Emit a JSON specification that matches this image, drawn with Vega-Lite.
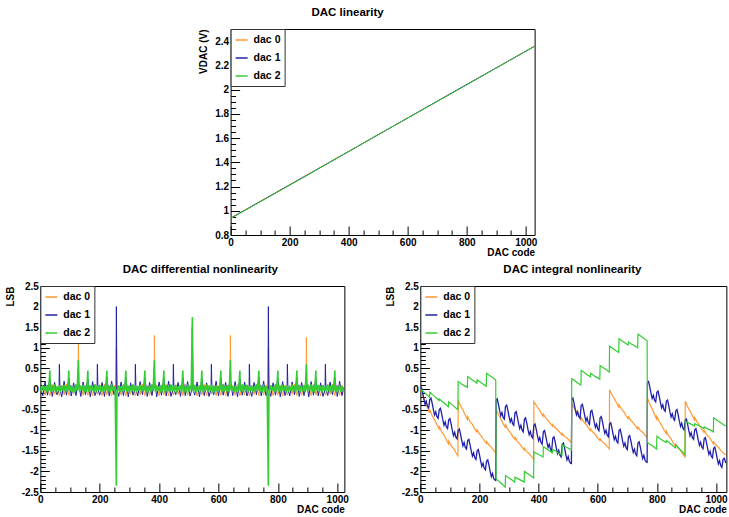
{
"$schema":"https://vega.github.io/schema/vega-lite/v6.json",
"background":"white",
"padding":{"left":4,"top":6,"right":0,"bottom":0},
"config":{
 "font":"Liberation Sans",
 "view":{"stroke":"#000000","strokeWidth":1},
 "axis":{"domain":false,"grid":false,"labelFont":"Liberation Sans","labelFontWeight":"bold","labelFontSize":10,"labelColor":"#000000","titleFont":"Liberation Sans","titleFontWeight":"bold","titleFontSize":10,"titleColor":"#000000","tickColor":"#000000","tickWidth":1},
 "title":{"font":"Liberation Sans","fontSize":11.5,"fontWeight":"bold","color":"#000000"}
},
"datasets":{
"lin0":[{"c":0,"v":0.94},{"c":256,"v":1.292},{"c":512,"v":1.645},{"c":768,"v":1.997},{"c":1029,"v":2.358}],
"lin1":[{"c":0,"v":0.938},{"c":256,"v":1.29},{"c":512,"v":1.644},{"c":768,"v":1.998},{"c":1029,"v":2.356}],
"lin2":[{"c":0,"v":0.936},{"c":256,"v":1.288},{"c":512,"v":1.645},{"c":768,"v":1.995},{"c":1029,"v":2.357}],
"dnl0":[{"c":0,"v":-0.05},{"c":8,"v":0.1},{"c":16,"v":-0.15},{"c":24,"v":0.08},{"c":32,"v":-0.16},{"c":40,"v":0.11},{"c":48,"v":-0.13},{"c":56,"v":0.07},{"c":64,"v":-0.17},{"c":72,"v":0.09},{"c":80,"v":-0.14},{"c":88,"v":0.12},{"c":96,"v":-0.16},{"c":104,"v":0.06},{"c":112,"v":-0.12},{"c":120,"v":0.1},{"c":127,"v":0.02},{"c":128,"v":1.3},{"c":129,"v":0.65},{"c":130,"v":0},{"c":136,"v":0.08},{"c":144,"v":-0.16},{"c":152,"v":0.1},{"c":160,"v":-0.15},{"c":168,"v":0.07},{"c":176,"v":-0.17},{"c":184,"v":0.11},{"c":192,"v":-0.13},{"c":200,"v":0.09},{"c":208,"v":-0.16},{"c":216,"v":0.12},{"c":224,"v":-0.14},{"c":232,"v":0.08},{"c":240,"v":-0.17},{"c":248,"v":0.1},{"c":255,"v":0.02},{"c":256,"v":1},{"c":257,"v":0.5},{"c":258,"v":0},{"c":264,"v":0.09},{"c":272,"v":-0.15},{"c":280,"v":0.11},{"c":288,"v":-0.16},{"c":296,"v":0.07},{"c":304,"v":-0.13},{"c":312,"v":0.1},{"c":320,"v":-0.17},{"c":328,"v":0.08},{"c":336,"v":-0.14},{"c":344,"v":0.12},{"c":352,"v":-0.16},{"c":360,"v":0.09},{"c":368,"v":-0.15},{"c":376,"v":0.06},{"c":383,"v":0.02},{"c":384,"v":1.3},{"c":385,"v":0.65},{"c":386,"v":0},{"c":392,"v":0.1},{"c":400,"v":-0.16},{"c":408,"v":0.08},{"c":416,"v":-0.14},{"c":424,"v":0.11},{"c":432,"v":-0.17},{"c":440,"v":0.07},{"c":448,"v":-0.15},{"c":456,"v":0.1},{"c":464,"v":-0.13},{"c":472,"v":0.09},{"c":480,"v":-0.16},{"c":488,"v":0.12},{"c":496,"v":-0.15},{"c":504,"v":0.08},{"c":511,"v":0.02},{"c":512,"v":1},{"c":513,"v":0.5},{"c":514,"v":0},{"c":520,"v":0.1},{"c":528,"v":-0.17},{"c":536,"v":0.07},{"c":544,"v":-0.14},{"c":552,"v":0.11},{"c":560,"v":-0.16},{"c":568,"v":0.09},{"c":576,"v":-0.13},{"c":584,"v":0.1},{"c":592,"v":-0.16},{"c":600,"v":0.08},{"c":608,"v":-0.15},{"c":616,"v":0.12},{"c":624,"v":-0.17},{"c":632,"v":0.07},{"c":639,"v":0.02},{"c":640,"v":1.3},{"c":641,"v":0.65},{"c":642,"v":0},{"c":648,"v":0.09},{"c":656,"v":-0.15},{"c":664,"v":0.11},{"c":672,"v":-0.16},{"c":680,"v":0.08},{"c":688,"v":-0.14},{"c":696,"v":0.1},{"c":704,"v":-0.17},{"c":712,"v":0.07},{"c":720,"v":-0.13},{"c":728,"v":0.12},{"c":736,"v":-0.16},{"c":744,"v":0.09},{"c":752,"v":-0.15},{"c":760,"v":0.1},{"c":767,"v":0.02},{"c":768,"v":1},{"c":769,"v":0.5},{"c":770,"v":0},{"c":776,"v":0.08},{"c":784,"v":-0.16},{"c":792,"v":0.11},{"c":800,"v":-0.14},{"c":808,"v":0.07},{"c":816,"v":-0.17},{"c":824,"v":0.1},{"c":832,"v":-0.15},{"c":840,"v":0.09},{"c":848,"v":-0.13},{"c":856,"v":0.12},{"c":864,"v":-0.16},{"c":872,"v":0.08},{"c":880,"v":-0.15},{"c":888,"v":0.1},{"c":895,"v":0.02},{"c":896,"v":1.25},{"c":897,"v":0.62},{"c":898,"v":0},{"c":904,"v":0.09},{"c":912,"v":-0.16},{"c":920,"v":0.11},{"c":928,"v":-0.14},{"c":936,"v":0.07},{"c":944,"v":-0.17},{"c":952,"v":0.1},{"c":960,"v":-0.15},{"c":968,"v":0.08},{"c":976,"v":-0.13},{"c":984,"v":0.12},{"c":992,"v":-0.16},{"c":1000,"v":0.09},{"c":1008,"v":-0.15},{"c":1016,"v":0.1},{"c":1023,"v":-0.05}],
"dnl1":[{"c":0,"v":0.05},{"c":8,"v":-0.17},{"c":16,"v":0.18},{"c":24,"v":-0.15},{"c":32,"v":0.26},{"c":40,"v":-0.18},{"c":48,"v":0.16},{"c":56,"v":-0.14},{"c":63,"v":0},{"c":64,"v":0.6},{"c":65,"v":0.3},{"c":66,"v":0},{"c":72,"v":-0.19},{"c":80,"v":0.19},{"c":88,"v":-0.15},{"c":96,"v":0.27},{"c":104,"v":-0.17},{"c":112,"v":0.15},{"c":120,"v":-0.16},{"c":128,"v":0.2},{"c":136,"v":-0.18},{"c":144,"v":0.17},{"c":152,"v":-0.14},{"c":160,"v":0.25},{"c":168,"v":-0.19},{"c":176,"v":0.18},{"c":184,"v":-0.16},{"c":191,"v":0},{"c":192,"v":0.6},{"c":193,"v":0.3},{"c":194,"v":0},{"c":200,"v":-0.15},{"c":208,"v":0.16},{"c":216,"v":-0.18},{"c":224,"v":0.28},{"c":232,"v":-0.17},{"c":240,"v":0.19},{"c":248,"v":-0.14},{"c":255,"v":0},{"c":256,"v":2},{"c":257,"v":1},{"c":258,"v":0},{"c":264,"v":-0.18},{"c":272,"v":0.17},{"c":280,"v":-0.16},{"c":288,"v":0.26},{"c":296,"v":-0.19},{"c":304,"v":0.15},{"c":312,"v":-0.15},{"c":319,"v":0},{"c":320,"v":0.6},{"c":321,"v":0.3},{"c":322,"v":0},{"c":328,"v":-0.17},{"c":336,"v":0.18},{"c":344,"v":-0.14},{"c":352,"v":0.27},{"c":360,"v":-0.18},{"c":368,"v":0.16},{"c":376,"v":-0.16},{"c":384,"v":0.2},{"c":392,"v":-0.19},{"c":400,"v":0.17},{"c":408,"v":-0.15},{"c":416,"v":0.25},{"c":424,"v":-0.17},{"c":432,"v":0.19},{"c":440,"v":-0.18},{"c":447,"v":0},{"c":448,"v":0.6},{"c":449,"v":0.3},{"c":450,"v":0},{"c":456,"v":-0.14},{"c":464,"v":0.16},{"c":472,"v":-0.18},{"c":480,"v":0.28},{"c":488,"v":-0.16},{"c":496,"v":0.18},{"c":504,"v":-0.17},{"c":511,"v":0},{"c":512,"v":1.5},{"c":513,"v":0.75},{"c":514,"v":0},{"c":520,"v":-0.15},{"c":528,"v":0.17},{"c":536,"v":-0.19},{"c":544,"v":0.26},{"c":552,"v":-0.16},{"c":560,"v":0.15},{"c":568,"v":-0.18},{"c":575,"v":0},{"c":576,"v":0.6},{"c":577,"v":0.3},{"c":578,"v":0},{"c":584,"v":-0.14},{"c":592,"v":0.19},{"c":600,"v":-0.17},{"c":608,"v":0.27},{"c":616,"v":-0.15},{"c":624,"v":0.16},{"c":632,"v":-0.18},{"c":640,"v":0.2},{"c":648,"v":-0.16},{"c":656,"v":0.18},{"c":664,"v":-0.19},{"c":672,"v":0.25},{"c":680,"v":-0.15},{"c":688,"v":0.17},{"c":696,"v":-0.17},{"c":703,"v":0},{"c":704,"v":0.6},{"c":705,"v":0.3},{"c":706,"v":0},{"c":712,"v":-0.18},{"c":720,"v":0.16},{"c":728,"v":-0.14},{"c":736,"v":0.28},{"c":744,"v":-0.17},{"c":752,"v":0.19},{"c":760,"v":-0.16},{"c":767,"v":0},{"c":768,"v":2},{"c":769,"v":1},{"c":770,"v":0},{"c":776,"v":-0.18},{"c":784,"v":0.15},{"c":792,"v":-0.15},{"c":800,"v":0.26},{"c":808,"v":-0.19},{"c":816,"v":0.18},{"c":824,"v":-0.16},{"c":831,"v":0},{"c":832,"v":0.6},{"c":833,"v":0.3},{"c":834,"v":0},{"c":840,"v":-0.17},{"c":848,"v":0.17},{"c":856,"v":-0.14},{"c":864,"v":0.27},{"c":872,"v":-0.18},{"c":880,"v":0.16},{"c":888,"v":-0.16},{"c":896,"v":0.19},{"c":904,"v":-0.19},{"c":912,"v":0.18},{"c":920,"v":-0.15},{"c":928,"v":0.25},{"c":936,"v":-0.17},{"c":944,"v":0.15},{"c":952,"v":-0.18},{"c":959,"v":0},{"c":960,"v":0.6},{"c":961,"v":0.3},{"c":962,"v":0},{"c":968,"v":-0.16},{"c":976,"v":0.17},{"c":984,"v":-0.14},{"c":992,"v":0.28},{"c":1000,"v":-0.18},{"c":1008,"v":0.19},{"c":1016,"v":-0.16},{"c":1023,"v":0.05}],
"dnl2":[{"c":0,"v":0.05},{"c":4,"v":-0.06},{"c":8,"v":0.09},{"c":12,"v":-0.04},{"c":16,"v":0.07},{"c":20,"v":-0.08},{"c":24,"v":0.1},{"c":28,"v":-0.05},{"c":32,"v":0.45},{"c":33,"v":0.03},{"c":36,"v":-0.07},{"c":40,"v":0.08},{"c":44,"v":-0.06},{"c":48,"v":0.11},{"c":52,"v":-0.09},{"c":56,"v":0.06},{"c":60,"v":-0.05},{"c":64,"v":0.09},{"c":68,"v":-0.07},{"c":72,"v":0.08},{"c":76,"v":-0.04},{"c":80,"v":0.1},{"c":84,"v":-0.08},{"c":88,"v":0.07},{"c":92,"v":-0.06},{"c":96,"v":0.45},{"c":97,"v":0.03},{"c":100,"v":-0.05},{"c":104,"v":0.09},{"c":108,"v":-0.07},{"c":112,"v":0.06},{"c":116,"v":-0.09},{"c":120,"v":0.11},{"c":124,"v":-0.05},{"c":128,"v":0.7},{"c":129,"v":0.35},{"c":130,"v":0.02},{"c":132,"v":-0.06},{"c":136,"v":0.08},{"c":140,"v":-0.04},{"c":144,"v":0.1},{"c":148,"v":-0.08},{"c":152,"v":0.07},{"c":156,"v":-0.06},{"c":160,"v":0.45},{"c":161,"v":0.03},{"c":164,"v":-0.07},{"c":168,"v":0.09},{"c":172,"v":-0.05},{"c":176,"v":0.06},{"c":180,"v":-0.09},{"c":184,"v":0.11},{"c":188,"v":-0.06},{"c":192,"v":0.08},{"c":196,"v":-0.04},{"c":200,"v":0.1},{"c":204,"v":-0.07},{"c":208,"v":0.07},{"c":212,"v":-0.08},{"c":216,"v":0.09},{"c":220,"v":-0.05},{"c":224,"v":0.45},{"c":225,"v":0.03},{"c":228,"v":-0.06},{"c":232,"v":0.08},{"c":236,"v":-0.09},{"c":240,"v":0.11},{"c":244,"v":-0.04},{"c":248,"v":0.06},{"c":252,"v":-0.07},{"c":256,"v":-2.35},{"c":257,"v":-1.2},{"c":258,"v":-0.02},{"c":260,"v":-0.05},{"c":264,"v":0.09},{"c":268,"v":-0.08},{"c":272,"v":0.07},{"c":276,"v":-0.06},{"c":280,"v":0.1},{"c":284,"v":-0.04},{"c":288,"v":0.45},{"c":289,"v":0.03},{"c":292,"v":-0.07},{"c":296,"v":0.08},{"c":300,"v":-0.09},{"c":304,"v":0.06},{"c":308,"v":-0.05},{"c":312,"v":0.11},{"c":316,"v":-0.06},{"c":320,"v":0.09},{"c":324,"v":-0.08},{"c":328,"v":0.07},{"c":332,"v":-0.04},{"c":336,"v":0.1},{"c":340,"v":-0.07},{"c":344,"v":0.08},{"c":348,"v":-0.05},{"c":352,"v":0.45},{"c":353,"v":0.03},{"c":356,"v":-0.09},{"c":360,"v":0.06},{"c":364,"v":-0.06},{"c":368,"v":0.09},{"c":372,"v":-0.08},{"c":376,"v":0.11},{"c":380,"v":-0.04},{"c":384,"v":0.7},{"c":385,"v":0.35},{"c":386,"v":0.02},{"c":388,"v":-0.07},{"c":392,"v":0.08},{"c":396,"v":-0.05},{"c":400,"v":0.07},{"c":404,"v":-0.09},{"c":408,"v":0.1},{"c":412,"v":-0.06},{"c":416,"v":0.45},{"c":417,"v":0.03},{"c":420,"v":-0.04},{"c":424,"v":0.09},{"c":428,"v":-0.08},{"c":432,"v":0.06},{"c":436,"v":-0.07},{"c":440,"v":0.11},{"c":444,"v":-0.05},{"c":448,"v":0.08},{"c":452,"v":-0.06},{"c":456,"v":0.1},{"c":460,"v":-0.09},{"c":464,"v":0.07},{"c":468,"v":-0.04},{"c":472,"v":0.09},{"c":476,"v":-0.07},{"c":480,"v":0.45},{"c":481,"v":0.03},{"c":484,"v":-0.05},{"c":488,"v":0.06},{"c":492,"v":-0.08},{"c":496,"v":0.11},{"c":500,"v":-0.06},{"c":504,"v":0.08},{"c":508,"v":-0.04},{"c":512,"v":1.75},{"c":513,"v":0.85},{"c":514,"v":0.02},{"c":516,"v":-0.07},{"c":520,"v":0.1},{"c":524,"v":-0.09},{"c":528,"v":0.07},{"c":532,"v":-0.05},{"c":536,"v":0.09},{"c":540,"v":-0.06},{"c":544,"v":0.45},{"c":545,"v":0.03},{"c":548,"v":-0.08},{"c":552,"v":0.06},{"c":556,"v":-0.04},{"c":560,"v":0.11},{"c":564,"v":-0.07},{"c":568,"v":0.08},{"c":572,"v":-0.05},{"c":576,"v":0.1},{"c":580,"v":-0.09},{"c":584,"v":0.07},{"c":588,"v":-0.06},{"c":592,"v":0.09},{"c":596,"v":-0.08},{"c":600,"v":0.06},{"c":604,"v":-0.04},{"c":608,"v":0.45},{"c":609,"v":0.03},{"c":612,"v":-0.07},{"c":616,"v":0.11},{"c":620,"v":-0.05},{"c":624,"v":0.08},{"c":628,"v":-0.06},{"c":632,"v":0.1},{"c":636,"v":-0.09},{"c":640,"v":0.7},{"c":641,"v":0.35},{"c":642,"v":0.02},{"c":644,"v":-0.04},{"c":648,"v":0.07},{"c":652,"v":-0.08},{"c":656,"v":0.09},{"c":660,"v":-0.07},{"c":664,"v":0.06},{"c":668,"v":-0.05},{"c":672,"v":0.45},{"c":673,"v":0.03},{"c":676,"v":-0.06},{"c":680,"v":0.11},{"c":684,"v":-0.09},{"c":688,"v":0.08},{"c":692,"v":-0.04},{"c":696,"v":0.1},{"c":700,"v":-0.07},{"c":704,"v":0.07},{"c":708,"v":-0.05},{"c":712,"v":0.09},{"c":716,"v":-0.08},{"c":720,"v":0.06},{"c":724,"v":-0.06},{"c":728,"v":0.11},{"c":732,"v":-0.04},{"c":736,"v":0.45},{"c":737,"v":0.03},{"c":740,"v":-0.07},{"c":744,"v":0.08},{"c":748,"v":-0.09},{"c":752,"v":0.1},{"c":756,"v":-0.05},{"c":760,"v":0.07},{"c":764,"v":-0.06},{"c":768,"v":-2.35},{"c":769,"v":-1.2},{"c":770,"v":-0.02},{"c":772,"v":-0.08},{"c":776,"v":0.09},{"c":780,"v":-0.04},{"c":784,"v":0.06},{"c":788,"v":-0.07},{"c":792,"v":0.11},{"c":796,"v":-0.05},{"c":800,"v":0.45},{"c":801,"v":0.03},{"c":804,"v":-0.06},{"c":808,"v":0.08},{"c":812,"v":-0.09},{"c":816,"v":0.1},{"c":820,"v":-0.04},{"c":824,"v":0.07},{"c":828,"v":-0.08},{"c":832,"v":0.09},{"c":836,"v":-0.07},{"c":840,"v":0.06},{"c":844,"v":-0.05},{"c":848,"v":0.11},{"c":852,"v":-0.06},{"c":856,"v":0.08},{"c":860,"v":-0.09},{"c":864,"v":0.45},{"c":865,"v":0.03},{"c":868,"v":-0.04},{"c":872,"v":0.1},{"c":876,"v":-0.07},{"c":880,"v":0.07},{"c":884,"v":-0.05},{"c":888,"v":0.09},{"c":892,"v":-0.08},{"c":896,"v":0.6},{"c":897,"v":0.3},{"c":898,"v":0.02},{"c":900,"v":-0.06},{"c":904,"v":0.06},{"c":908,"v":-0.04},{"c":912,"v":0.11},{"c":916,"v":-0.07},{"c":920,"v":0.08},{"c":924,"v":-0.09},{"c":928,"v":0.45},{"c":929,"v":0.03},{"c":932,"v":-0.05},{"c":936,"v":0.1},{"c":940,"v":-0.06},{"c":944,"v":0.07},{"c":948,"v":-0.08},{"c":952,"v":0.09},{"c":956,"v":-0.04},{"c":960,"v":0.06},{"c":964,"v":-0.07},{"c":968,"v":0.11},{"c":972,"v":-0.05},{"c":976,"v":0.08},{"c":980,"v":-0.09},{"c":984,"v":0.1},{"c":988,"v":-0.06},{"c":992,"v":0.45},{"c":993,"v":0.03},{"c":996,"v":-0.08},{"c":1000,"v":0.07},{"c":1004,"v":-0.04},{"c":1008,"v":0.09},{"c":1012,"v":-0.07},{"c":1016,"v":0.06},{"c":1020,"v":-0.05},{"c":1023,"v":0.04}],
"inl0":[{"c":0,"v":0},{"c":8,"v":-0.16},{"c":16,"v":-0.29},{"c":24,"v":-0.45},{"c":31,"v":-0.58},{"c":32,"v":-0.5},{"c":40,"v":-0.65},{"c":48,"v":-0.75},{"c":56,"v":-0.87},{"c":63,"v":-0.97},{"c":64,"v":-0.91},{"c":72,"v":-1.04},{"c":80,"v":-1.12},{"c":88,"v":-1.23},{"c":95,"v":-1.33},{"c":96,"v":-1.26},{"c":104,"v":-1.38},{"c":112,"v":-1.44},{"c":120,"v":-1.54},{"c":127,"v":-1.62},{"c":128,"v":-0.28},{"c":136,"v":-0.41},{"c":144,"v":-0.51},{"c":152,"v":-0.64},{"c":159,"v":-0.74},{"c":160,"v":-0.67},{"c":168,"v":-0.79},{"c":176,"v":-0.86},{"c":184,"v":-0.97},{"c":191,"v":-1.04},{"c":192,"v":-0.99},{"c":200,"v":-1.09},{"c":208,"v":-1.16},{"c":216,"v":-1.25},{"c":223,"v":-1.32},{"c":224,"v":-1.27},{"c":232,"v":-1.36},{"c":240,"v":-1.41},{"c":248,"v":-1.49},{"c":255,"v":-1.55},{"c":256,"v":-0.5},{"c":264,"v":-0.62},{"c":272,"v":-0.72},{"c":280,"v":-0.84},{"c":287,"v":-0.93},{"c":288,"v":-0.87},{"c":296,"v":-0.98},{"c":304,"v":-1.05},{"c":312,"v":-1.15},{"c":319,"v":-1.22},{"c":320,"v":-1.17},{"c":328,"v":-1.27},{"c":336,"v":-1.33},{"c":344,"v":-1.41},{"c":351,"v":-1.48},{"c":352,"v":-1.44},{"c":360,"v":-1.52},{"c":368,"v":-1.57},{"c":376,"v":-1.64},{"c":383,"v":-1.7},{"c":384,"v":-0.3},{"c":392,"v":-0.4},{"c":400,"v":-0.48},{"c":408,"v":-0.58},{"c":415,"v":-0.66},{"c":416,"v":-0.61},{"c":424,"v":-0.7},{"c":432,"v":-0.76},{"c":440,"v":-0.84},{"c":447,"v":-0.9},{"c":448,"v":-0.86},{"c":456,"v":-0.94},{"c":464,"v":-0.99},{"c":472,"v":-1.06},{"c":479,"v":-1.12},{"c":480,"v":-1.08},{"c":488,"v":-1.15},{"c":496,"v":-1.19},{"c":504,"v":-1.25},{"c":511,"v":-1.3},{"c":512,"v":-0.35},{"c":520,"v":-0.46},{"c":528,"v":-0.55},{"c":536,"v":-0.66},{"c":543,"v":-0.75},{"c":544,"v":-0.69},{"c":552,"v":-0.79},{"c":560,"v":-0.86},{"c":568,"v":-0.94},{"c":575,"v":-1.01},{"c":576,"v":-0.97},{"c":584,"v":-1.05},{"c":592,"v":-1.11},{"c":600,"v":-1.19},{"c":607,"v":-1.25},{"c":608,"v":-1.21},{"c":616,"v":-1.29},{"c":624,"v":-1.33},{"c":632,"v":-1.4},{"c":639,"v":-1.45},{"c":640,"v":-0.02},{"c":648,"v":-0.14},{"c":656,"v":-0.23},{"c":664,"v":-0.34},{"c":671,"v":-0.44},{"c":672,"v":-0.38},{"c":680,"v":-0.48},{"c":688,"v":-0.55},{"c":696,"v":-0.65},{"c":703,"v":-0.72},{"c":704,"v":-0.67},{"c":712,"v":-0.76},{"c":720,"v":-0.82},{"c":728,"v":-0.9},{"c":735,"v":-0.97},{"c":736,"v":-0.92},{"c":744,"v":-1.01},{"c":752,"v":-1.05},{"c":760,"v":-1.12},{"c":767,"v":-1.18},{"c":768,"v":-0.22},{"c":776,"v":-0.36},{"c":784,"v":-0.48},{"c":792,"v":-0.62},{"c":799,"v":-0.73},{"c":800,"v":-0.66},{"c":808,"v":-0.79},{"c":816,"v":-0.88},{"c":824,"v":-0.99},{"c":831,"v":-1.08},{"c":832,"v":-1.02},{"c":840,"v":-1.14},{"c":848,"v":-1.21},{"c":856,"v":-1.31},{"c":863,"v":-1.39},{"c":864,"v":-1.34},{"c":872,"v":-1.44},{"c":880,"v":-1.49},{"c":888,"v":-1.58},{"c":895,"v":-1.65},{"c":896,"v":-0.3},{"c":904,"v":-0.43},{"c":912,"v":-0.53},{"c":920,"v":-0.65},{"c":927,"v":-0.75},{"c":928,"v":-0.69},{"c":936,"v":-0.8},{"c":944,"v":-0.88},{"c":952,"v":-0.98},{"c":959,"v":-1.05},{"c":960,"v":-1},{"c":968,"v":-1.1},{"c":976,"v":-1.16},{"c":984,"v":-1.25},{"c":991,"v":-1.33},{"c":992,"v":-1.28},{"c":1000,"v":-1.36},{"c":1008,"v":-1.41},{"c":1016,"v":-1.49},{"c":1024,"v":-1.55},{"c":1033,"v":-1.6}],
"inl1":[{"c":0,"v":0},{"c":4,"v":0.03},{"c":8,"v":-0.1},{"c":12,"v":-0.25},{"c":16,"v":-0.38},{"c":20,"v":-0.3},{"c":24,"v":-0.42},{"c":28,"v":-0.46},{"c":32,"v":-0.25},{"c":36,"v":-0.22},{"c":40,"v":-0.35},{"c":44,"v":-0.5},{"c":48,"v":-0.63},{"c":52,"v":-0.55},{"c":56,"v":-0.67},{"c":60,"v":-0.71},{"c":64,"v":-0.5},{"c":68,"v":-0.47},{"c":72,"v":-0.6},{"c":76,"v":-0.75},{"c":80,"v":-0.88},{"c":84,"v":-0.8},{"c":88,"v":-0.92},{"c":92,"v":-0.96},{"c":96,"v":-0.75},{"c":100,"v":-0.72},{"c":104,"v":-0.85},{"c":108,"v":-1},{"c":112,"v":-1.13},{"c":116,"v":-1.05},{"c":120,"v":-1.17},{"c":124,"v":-1.21},{"c":128,"v":-1},{"c":132,"v":-0.97},{"c":136,"v":-1.1},{"c":140,"v":-1.25},{"c":144,"v":-1.38},{"c":148,"v":-1.3},{"c":152,"v":-1.42},{"c":156,"v":-1.46},{"c":160,"v":-1.25},{"c":164,"v":-1.22},{"c":168,"v":-1.35},{"c":172,"v":-1.5},{"c":176,"v":-1.63},{"c":180,"v":-1.55},{"c":184,"v":-1.67},{"c":188,"v":-1.71},{"c":192,"v":-1.5},{"c":196,"v":-1.47},{"c":200,"v":-1.6},{"c":204,"v":-1.75},{"c":208,"v":-1.88},{"c":212,"v":-1.8},{"c":216,"v":-1.92},{"c":220,"v":-1.96},{"c":224,"v":-1.75},{"c":228,"v":-1.72},{"c":232,"v":-1.85},{"c":236,"v":-2},{"c":240,"v":-2.13},{"c":244,"v":-2.05},{"c":248,"v":-2.17},{"c":252,"v":-2.21},{"c":255,"v":-2.22},{"c":256,"v":-0.27},{"c":260,"v":-0.24},{"c":264,"v":-0.37},{"c":268,"v":-0.52},{"c":272,"v":-0.65},{"c":276,"v":-0.57},{"c":280,"v":-0.69},{"c":284,"v":-0.73},{"c":288,"v":-0.42},{"c":292,"v":-0.39},{"c":296,"v":-0.52},{"c":300,"v":-0.67},{"c":304,"v":-0.8},{"c":308,"v":-0.72},{"c":312,"v":-0.84},{"c":316,"v":-0.88},{"c":320,"v":-0.58},{"c":324,"v":-0.55},{"c":328,"v":-0.68},{"c":332,"v":-0.83},{"c":336,"v":-0.96},{"c":340,"v":-0.88},{"c":344,"v":-1},{"c":348,"v":-1.04},{"c":352,"v":-0.73},{"c":356,"v":-0.7},{"c":360,"v":-0.83},{"c":364,"v":-0.98},{"c":368,"v":-1.11},{"c":372,"v":-1.03},{"c":376,"v":-1.15},{"c":380,"v":-1.19},{"c":384,"v":-0.88},{"c":388,"v":-0.85},{"c":392,"v":-0.98},{"c":396,"v":-1.13},{"c":400,"v":-1.26},{"c":404,"v":-1.18},{"c":408,"v":-1.3},{"c":412,"v":-1.34},{"c":416,"v":-1.04},{"c":420,"v":-1.01},{"c":424,"v":-1.14},{"c":428,"v":-1.29},{"c":432,"v":-1.42},{"c":436,"v":-1.34},{"c":440,"v":-1.46},{"c":444,"v":-1.5},{"c":448,"v":-1.19},{"c":452,"v":-1.16},{"c":456,"v":-1.29},{"c":460,"v":-1.44},{"c":464,"v":-1.57},{"c":468,"v":-1.49},{"c":472,"v":-1.61},{"c":476,"v":-1.65},{"c":480,"v":-1.34},{"c":484,"v":-1.31},{"c":488,"v":-1.44},{"c":492,"v":-1.59},{"c":496,"v":-1.72},{"c":500,"v":-1.64},{"c":504,"v":-1.76},{"c":508,"v":-1.8},{"c":511,"v":-1.81},{"c":512,"v":-0.25},{"c":516,"v":-0.22},{"c":520,"v":-0.35},{"c":524,"v":-0.5},{"c":528,"v":-0.63},{"c":532,"v":-0.55},{"c":536,"v":-0.67},{"c":540,"v":-0.71},{"c":544,"v":-0.4},{"c":548,"v":-0.37},{"c":552,"v":-0.5},{"c":556,"v":-0.65},{"c":560,"v":-0.78},{"c":564,"v":-0.7},{"c":568,"v":-0.82},{"c":572,"v":-0.86},{"c":576,"v":-0.55},{"c":580,"v":-0.52},{"c":584,"v":-0.65},{"c":588,"v":-0.8},{"c":592,"v":-0.93},{"c":596,"v":-0.85},{"c":600,"v":-0.97},{"c":604,"v":-1.01},{"c":608,"v":-0.7},{"c":612,"v":-0.67},{"c":616,"v":-0.8},{"c":620,"v":-0.95},{"c":624,"v":-1.08},{"c":628,"v":-1},{"c":632,"v":-1.12},{"c":636,"v":-1.16},{"c":640,"v":-0.85},{"c":644,"v":-0.82},{"c":648,"v":-0.95},{"c":652,"v":-1.1},{"c":656,"v":-1.23},{"c":660,"v":-1.15},{"c":664,"v":-1.27},{"c":668,"v":-1.31},{"c":672,"v":-1.01},{"c":676,"v":-0.98},{"c":680,"v":-1.11},{"c":684,"v":-1.26},{"c":688,"v":-1.39},{"c":692,"v":-1.31},{"c":696,"v":-1.43},{"c":700,"v":-1.47},{"c":704,"v":-1.16},{"c":708,"v":-1.13},{"c":712,"v":-1.26},{"c":716,"v":-1.41},{"c":720,"v":-1.54},{"c":724,"v":-1.46},{"c":728,"v":-1.58},{"c":732,"v":-1.62},{"c":736,"v":-1.31},{"c":740,"v":-1.28},{"c":744,"v":-1.41},{"c":748,"v":-1.56},{"c":752,"v":-1.69},{"c":756,"v":-1.61},{"c":760,"v":-1.73},{"c":764,"v":-1.77},{"c":767,"v":-1.78},{"c":768,"v":0.15},{"c":772,"v":0.18},{"c":776,"v":0.05},{"c":780,"v":-0.1},{"c":784,"v":-0.23},{"c":788,"v":-0.15},{"c":792,"v":-0.27},{"c":796,"v":-0.31},{"c":800,"v":-0.08},{"c":804,"v":-0.05},{"c":808,"v":-0.18},{"c":812,"v":-0.33},{"c":816,"v":-0.46},{"c":820,"v":-0.38},{"c":824,"v":-0.5},{"c":828,"v":-0.54},{"c":832,"v":-0.3},{"c":836,"v":-0.27},{"c":840,"v":-0.4},{"c":844,"v":-0.55},{"c":848,"v":-0.68},{"c":852,"v":-0.6},{"c":856,"v":-0.72},{"c":860,"v":-0.76},{"c":864,"v":-0.53},{"c":868,"v":-0.5},{"c":872,"v":-0.63},{"c":876,"v":-0.78},{"c":880,"v":-0.91},{"c":884,"v":-0.83},{"c":888,"v":-0.95},{"c":892,"v":-0.99},{"c":896,"v":-0.76},{"c":900,"v":-0.73},{"c":904,"v":-0.86},{"c":908,"v":-1.01},{"c":912,"v":-1.14},{"c":916,"v":-1.06},{"c":920,"v":-1.18},{"c":924,"v":-1.22},{"c":928,"v":-0.99},{"c":932,"v":-0.96},{"c":936,"v":-1.09},{"c":940,"v":-1.24},{"c":944,"v":-1.37},{"c":948,"v":-1.29},{"c":952,"v":-1.41},{"c":956,"v":-1.45},{"c":960,"v":-1.21},{"c":964,"v":-1.18},{"c":968,"v":-1.31},{"c":972,"v":-1.46},{"c":976,"v":-1.59},{"c":980,"v":-1.51},{"c":984,"v":-1.63},{"c":988,"v":-1.67},{"c":992,"v":-1.44},{"c":996,"v":-1.41},{"c":1000,"v":-1.54},{"c":1004,"v":-1.69},{"c":1008,"v":-1.82},{"c":1012,"v":-1.74},{"c":1016,"v":-1.86},{"c":1020,"v":-1.9},{"c":1024,"v":-1.7},{"c":1028,"v":-1.68},{"c":1033,"v":-1.8}],
"inl2":[{"c":0,"v":0},{"c":8,"v":-0.05},{"c":16,"v":-0.1},{"c":24,"v":-0.15},{"c":31,"v":-0.2},{"c":32,"v":-0.08},{"c":40,"v":-0.13},{"c":48,"v":-0.18},{"c":56,"v":-0.23},{"c":63,"v":-0.28},{"c":64,"v":-0.24},{"c":72,"v":-0.29},{"c":80,"v":-0.34},{"c":88,"v":-0.39},{"c":95,"v":-0.43},{"c":96,"v":-0.31},{"c":104,"v":-0.36},{"c":112,"v":-0.41},{"c":120,"v":-0.46},{"c":127,"v":-0.5},{"c":128,"v":0.18},{"c":136,"v":0.14},{"c":144,"v":0.1},{"c":152,"v":0.07},{"c":159,"v":0.04},{"c":160,"v":0.3},{"c":168,"v":0.26},{"c":176,"v":0.22},{"c":184,"v":0.18},{"c":191,"v":0.14},{"c":192,"v":0.22},{"c":200,"v":0.18},{"c":208,"v":0.14},{"c":216,"v":0.1},{"c":223,"v":0.07},{"c":224,"v":0.38},{"c":232,"v":0.34},{"c":240,"v":0.3},{"c":248,"v":0.26},{"c":255,"v":0.22},{"c":256,"v":-2.18},{"c":264,"v":-2.23},{"c":272,"v":-2.28},{"c":280,"v":-2.33},{"c":287,"v":-2.38},{"c":288,"v":-2.1},{"c":296,"v":-2.14},{"c":304,"v":-2.18},{"c":312,"v":-2.22},{"c":319,"v":-2.26},{"c":320,"v":-2.14},{"c":328,"v":-2.17},{"c":336,"v":-2.2},{"c":344,"v":-2.23},{"c":351,"v":-2.26},{"c":352,"v":-2},{"c":360,"v":-2.04},{"c":368,"v":-2.08},{"c":376,"v":-2.12},{"c":383,"v":-2.16},{"c":384,"v":-1.53},{"c":392,"v":-1.56},{"c":400,"v":-1.59},{"c":408,"v":-1.62},{"c":415,"v":-1.65},{"c":416,"v":-1.4},{"c":424,"v":-1.44},{"c":432,"v":-1.48},{"c":440,"v":-1.52},{"c":447,"v":-1.55},{"c":448,"v":-1.47},{"c":456,"v":-1.5},{"c":464,"v":-1.54},{"c":472,"v":-1.57},{"c":479,"v":-1.6},{"c":480,"v":-1.36},{"c":488,"v":-1.39},{"c":496,"v":-1.42},{"c":504,"v":-1.45},{"c":511,"v":-1.48},{"c":512,"v":0.25},{"c":520,"v":0.21},{"c":528,"v":0.17},{"c":536,"v":0.13},{"c":543,"v":0.1},{"c":544,"v":0.45},{"c":552,"v":0.41},{"c":560,"v":0.37},{"c":568,"v":0.33},{"c":575,"v":0.3},{"c":576,"v":0.38},{"c":584,"v":0.34},{"c":592,"v":0.3},{"c":600,"v":0.27},{"c":607,"v":0.24},{"c":608,"v":0.57},{"c":616,"v":0.53},{"c":624,"v":0.49},{"c":632,"v":0.45},{"c":639,"v":0.41},{"c":640,"v":1.04},{"c":648,"v":1},{"c":656,"v":0.96},{"c":664,"v":0.92},{"c":671,"v":0.89},{"c":672,"v":1.22},{"c":680,"v":1.18},{"c":688,"v":1.14},{"c":696,"v":1.1},{"c":703,"v":1.07},{"c":704,"v":1.14},{"c":712,"v":1.1},{"c":720,"v":1.07},{"c":728,"v":1.03},{"c":735,"v":1},{"c":736,"v":1.33},{"c":744,"v":1.29},{"c":752,"v":1.25},{"c":760,"v":1.21},{"c":767,"v":1.17},{"c":768,"v":-1.3},{"c":776,"v":-1.34},{"c":784,"v":-1.38},{"c":792,"v":-1.42},{"c":799,"v":-1.46},{"c":800,"v":-1.15},{"c":808,"v":-1.19},{"c":816,"v":-1.23},{"c":824,"v":-1.27},{"c":831,"v":-1.3},{"c":832,"v":-1.25},{"c":840,"v":-1.29},{"c":848,"v":-1.34},{"c":856,"v":-1.39},{"c":863,"v":-1.43},{"c":864,"v":-1.36},{"c":872,"v":-1.42},{"c":880,"v":-1.48},{"c":888,"v":-1.54},{"c":895,"v":-1.6},{"c":896,"v":-0.78},{"c":904,"v":-0.81},{"c":912,"v":-0.84},{"c":920,"v":-0.87},{"c":927,"v":-0.9},{"c":928,"v":-0.84},{"c":936,"v":-0.87},{"c":944,"v":-0.9},{"c":952,"v":-0.93},{"c":959,"v":-0.96},{"c":960,"v":-0.92},{"c":968,"v":-0.95},{"c":976,"v":-0.98},{"c":984,"v":-1.01},{"c":991,"v":-1.04},{"c":992,"v":-0.7},{"c":1000,"v":-0.74},{"c":1008,"v":-0.78},{"c":1016,"v":-0.82},{"c":1024,"v":-0.86},{"c":1033,"v":-0.9}]
},
"vconcat":[
 {
  "width":304,"height":206,
  "title":{"text":"DAC linearity","anchor":"middle","frame":"group","dx":-35,"offset":6},
  "encoding":{
   "x":{"field":"c","type":"quantitative","scale":{"domain":[0,1030],"nice":false,"zero":false},
    "axis":{"values":[0,50,100,150,200,250,300,350,400,450,500,550,600,650,700,750,800,850,900,950,1000],"format":"d","labelExpr":"datum.value % 200 == 0 ? datum.label : ''","tickSize":{"condition":{"test":"datum.value % 200 == 0","value":-9},"value":-5},"labelPadding":11,"labelOverlap":false,"labelFlush":false,"title":"DAC code","titleAnchor":"end","titlePadding":-4}},
   "y":{"field":"v","type":"quantitative","scale":{"domain":[0.8,2.5],"nice":false,"zero":false},
    "axis":{"values":[0.8,0.85,0.9,0.95,1,1.05,1.1,1.15,1.2,1.25,1.3,1.35,1.4,1.45,1.5,1.55,1.6,1.65,1.7,1.75,1.8,1.85,1.9,1.95,2,2.05,2.1,2.15,2.2,2.25,2.3,2.35,2.4,2.45,2.5],"labelExpr":"abs(round(datum.value*5)-datum.value*5)<0.001 ? format(datum.value,'~g') : ''","tickSize":{"condition":{"test":"abs(round(datum.value*5)-datum.value*5)<0.001","value":-9},"value":-5},"labelPadding":11,"labelOverlap":false,"labelFlush":false,"title":"VDAC (V)","titleAnchor":"end","titlePadding":6}}
  },
  "layer":[
   {"data":{"name":"lin0"},"mark":{"type":"line","clip":true,"strokeWidth":1},"encoding":{"color":{"datum":"dac 0","type":"nominal","scale":{"domain":["dac 0","dac 1","dac 2"],"range":["#ff9933","#2020a8","#33cc33"]},"legend":{"title":null,"orient":"none","legendX":0,"legendY":0,"fillColor":"white","strokeColor":"#333333","padding":4,"symbolType":"stroke","symbolSize":144,"symbolStrokeWidth":1.5,"labelFontSize":10.5,"labelFontWeight":"bold","labelFont":"Liberation Sans","labelColor":"#000000","labelOffset":5,"rowPadding":5}}}},
   {"data":{"name":"lin1"},"mark":{"type":"line","clip":true,"strokeWidth":1},"encoding":{"color":{"datum":"dac 1","type":"nominal"}}},
   {"data":{"name":"lin2"},"mark":{"type":"line","clip":true,"strokeWidth":1},"encoding":{"color":{"datum":"dac 2","type":"nominal"}}}
  ]
 },
 {
  "hconcat":[
   {
    "width":304,"height":206,
    "title":{"text":"DAC differential nonlinearity","anchor":"middle","frame":"group","dx":8,"offset":6},
    "encoding":{
     "x":{"field":"c","type":"quantitative","scale":{"domain":[0,1024],"nice":false,"zero":false},
      "axis":{"values":[0,50,100,150,200,250,300,350,400,450,500,550,600,650,700,750,800,850,900,950,1000],"format":"d","labelExpr":"datum.value % 200 == 0 ? datum.label : ''","tickSize":{"condition":{"test":"datum.value % 200 == 0","value":-9},"value":-5},"labelPadding":11,"labelOverlap":false,"labelFlush":false,"title":"DAC code","titleAnchor":"end","titlePadding":-4}},
     "y":{"field":"v","type":"quantitative","scale":{"domain":[-2.5,2.5],"nice":false,"zero":false},
      "axis":{"values":[-2.5,-2.4,-2.3,-2.2,-2.1,-2,-1.9,-1.8,-1.7,-1.6,-1.5,-1.4,-1.3,-1.2,-1.1,-1,-0.9,-0.8,-0.7,-0.6,-0.5,-0.4,-0.3,-0.2,-0.1,0,0.1,0.2,0.3,0.4,0.5,0.6,0.7,0.8,0.9,1,1.1,1.2,1.3,1.4,1.5,1.6,1.7,1.8,1.9,2,2.1,2.2,2.3,2.4,2.5],"labelExpr":"abs(round(datum.value*2)-datum.value*2)<0.001 ? replace(format(datum.value,'~g'),'\u2212','-') : ''","tickSize":{"condition":{"test":"abs(round(datum.value*2)-datum.value*2)<0.001","value":-9},"value":-5},"labelPadding":11,"labelOverlap":false,"labelFlush":false,"title":"LSB","titleAnchor":"end","titlePadding":6}}
    },
    "layer":[
     {"data":{"name":"dnl0"},"mark":{"type":"line","clip":true,"strokeWidth":1},"encoding":{"color":{"datum":"dac 0","type":"nominal","scale":{"domain":["dac 0","dac 1","dac 2"],"range":["#ff9933","#2020a8","#33cc33"]},"legend":{"title":null,"orient":"none","legendX":0,"legendY":0,"fillColor":"white","strokeColor":"#333333","padding":4,"symbolType":"stroke","symbolSize":144,"symbolStrokeWidth":1.5,"labelFontSize":10.5,"labelFontWeight":"bold","labelFont":"Liberation Sans","labelColor":"#000000","labelOffset":5,"rowPadding":5}}}},
     {"data":{"name":"dnl1"},"mark":{"type":"line","clip":true,"strokeWidth":1},"encoding":{"color":{"datum":"dac 1","type":"nominal"}}},
     {"data":{"name":"dnl2"},"mark":{"type":"line","clip":true,"strokeWidth":1.6},"encoding":{"color":{"datum":"dac 2","type":"nominal"}}}
    ]
   },
   {
    "width":306,"height":206,
    "title":{"text":"DAC integral nonlinearity","anchor":"middle","frame":"group","dx":-1,"offset":6},
    "encoding":{
     "x":{"field":"c","type":"quantitative","scale":{"domain":[0,1035],"nice":false,"zero":false},
      "axis":{"values":[0,50,100,150,200,250,300,350,400,450,500,550,600,650,700,750,800,850,900,950,1000],"format":"d","labelExpr":"datum.value % 200 == 0 ? datum.label : ''","tickSize":{"condition":{"test":"datum.value % 200 == 0","value":-9},"value":-5},"labelPadding":11,"labelOverlap":false,"labelFlush":false,"title":"DAC code","titleAnchor":"end","titlePadding":-4}},
     "y":{"field":"v","type":"quantitative","scale":{"domain":[-2.5,2.5],"nice":false,"zero":false},
      "axis":{"values":[-2.5,-2.4,-2.3,-2.2,-2.1,-2,-1.9,-1.8,-1.7,-1.6,-1.5,-1.4,-1.3,-1.2,-1.1,-1,-0.9,-0.8,-0.7,-0.6,-0.5,-0.4,-0.3,-0.2,-0.1,0,0.1,0.2,0.3,0.4,0.5,0.6,0.7,0.8,0.9,1,1.1,1.2,1.3,1.4,1.5,1.6,1.7,1.8,1.9,2,2.1,2.2,2.3,2.4,2.5],"labelExpr":"abs(round(datum.value*2)-datum.value*2)<0.001 ? replace(format(datum.value,'~g'),'\u2212','-') : ''","tickSize":{"condition":{"test":"abs(round(datum.value*2)-datum.value*2)<0.001","value":-9},"value":-5},"labelPadding":11,"labelOverlap":false,"labelFlush":false,"title":"LSB","titleAnchor":"end","titlePadding":6}}
    },
    "layer":[
     {"data":{"name":"inl0"},"mark":{"type":"line","clip":true,"strokeWidth":1.2},"encoding":{"color":{"datum":"dac 0","type":"nominal","scale":{"domain":["dac 0","dac 1","dac 2"],"range":["#ff9933","#2020a8","#33cc33"]},"legend":{"title":null,"orient":"none","legendX":0,"legendY":0,"fillColor":"white","strokeColor":"#333333","padding":4,"symbolType":"stroke","symbolSize":144,"symbolStrokeWidth":1.5,"labelFontSize":10.5,"labelFontWeight":"bold","labelFont":"Liberation Sans","labelColor":"#000000","labelOffset":5,"rowPadding":5}}}},
     {"data":{"name":"inl1"},"mark":{"type":"line","clip":true,"strokeWidth":1.3},"encoding":{"color":{"datum":"dac 1","type":"nominal"}}},
     {"data":{"name":"inl2"},"mark":{"type":"line","clip":true,"strokeWidth":1.2},"encoding":{"color":{"datum":"dac 2","type":"nominal"}}}
    ]
   }
  ],
  "spacing":35,
  "resolve":{"scale":{"color":"independent"},"legend":{"color":"independent"}}
 }
],
"spacing":5,
"center":true,
"resolve":{"scale":{"color":"independent"},"legend":{"color":"independent"}}
}
